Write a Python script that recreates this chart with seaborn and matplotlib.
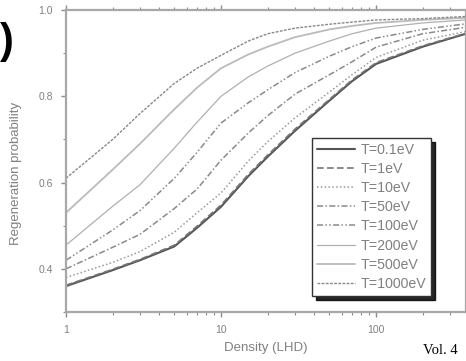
import numpy as np
import pandas as pd
import matplotlib
matplotlib.use("Agg")
import matplotlib.pyplot as plt
import matplotlib.ticker as mticker
import seaborn as sns

density = [1, 2, 3, 5, 7, 10, 15, 20, 30, 50, 70, 100, 200, 380]

labels = ["T=0.1eV", "T=1eV", "T=10eV", "T=50eV", "T=100eV", "T=200eV", "T=500eV", "T=1000eV"]

p_01 = [0.360, 0.397, 0.420, 0.452, 0.495, 0.544, 0.615, 0.660, 0.720, 0.790, 0.835, 0.875, 0.915, 0.945]
p_1 = [0.362, 0.399, 0.422, 0.455, 0.499, 0.548, 0.619, 0.664, 0.724, 0.793, 0.838, 0.878, 0.917, 0.946]
p_10 = [0.380, 0.415, 0.440, 0.485, 0.530, 0.576, 0.650, 0.695, 0.750, 0.810, 0.850, 0.890, 0.930, 0.950]
p_50 = [0.400, 0.450, 0.480, 0.540, 0.585, 0.652, 0.715, 0.755, 0.805, 0.850, 0.880, 0.914, 0.945, 0.960]
p_100 = [0.420, 0.490, 0.535, 0.610, 0.670, 0.738, 0.785, 0.815, 0.855, 0.893, 0.915, 0.935, 0.955, 0.968]
p_200 = [0.455, 0.545, 0.595, 0.680, 0.740, 0.800, 0.845, 0.870, 0.900, 0.928, 0.945, 0.958, 0.970, 0.977]
p_500 = [0.530, 0.630, 0.690, 0.770, 0.820, 0.865, 0.897, 0.915, 0.937, 0.955, 0.963, 0.970, 0.977, 0.982]
p_1000 = [0.610, 0.700, 0.760, 0.830, 0.865, 0.895, 0.928, 0.945, 0.958, 0.967, 0.972, 0.977, 0.980, 0.985]

series = [p_01, p_1, p_10, p_50, p_100, p_200, p_500, p_1000]

# line styles (scan is all grey)
styles = ["-", (0, (4, 2)), (0, (1, 1.5)), (0, (4, 1.5, 1, 1.5)),
          (0, (4, 1.5, 1, 1.5, 1, 1.5)), "-", "-", (0, (2, 1))]
colors = ["#555555", "#777777", "#999999", "#8a8a8a", "#8a8a8a", "#b0b0b0", "#bbbbbb", "#888888"]
widths = [1.5, 1.2, 1.1, 1.1, 1.1, 0.9, 1.3, 1.0]

sns.set_style("ticks")
plt.rcParams['font.family'] = ['Liberation Sans', 'DejaVu Sans']

grey = "#8c8c8c"
txt = "#808080"
fig = plt.figure(figsize=(4.66, 3.61), dpi=100)
ax = fig.add_axes([66 / 466, 49 / 361, 400 / 466, 302 / 361])

for lab, vals, ls, c, lw in zip(labels, series, styles, colors, widths):
    df = pd.DataFrame({"density": density, "prob": vals})
    sns.lineplot(data=df, x="density", y="prob", ax=ax, color=c, linestyle=ls,
                 linewidth=lw, label=lab)

ax.set_xscale("log")
ax.set_xlim(1, 380)
ax.set_ylim(0.3, 1.0)

ax.xaxis.set_major_locator(mticker.FixedLocator([1, 10, 100]))
ax.xaxis.set_major_formatter(mticker.FixedFormatter(["1", "10", "100"]))
ax.xaxis.set_minor_locator(mticker.LogLocator(base=10, subs=np.arange(2, 10)))
ax.xaxis.set_minor_formatter(mticker.NullFormatter())
ax.yaxis.set_major_locator(mticker.FixedLocator([0.4, 0.6, 0.8, 1.0]))
ax.yaxis.set_major_formatter(mticker.FormatStrFormatter("%.1f"))
ax.yaxis.set_minor_locator(mticker.FixedLocator([0.3, 0.5, 0.7, 0.9]))

for s in ax.spines.values():
    s.set_visible(True)
    s.set_color("#a8a8a8")
    s.set_linewidth(1.6)

ax.tick_params(which="both", direction="out", color=grey, labelcolor=txt,
               labelsize=7.5, top=True, right=True)
ax.tick_params(which="major", length=3.5, width=1.0, pad=6)
ax.tick_params(which="minor", length=2, width=0.8)

ax.set_xlabel("Density (LHD)", fontsize=9.5, color=txt)
ax.set_ylabel("Regeneration probability", fontsize=9.5, color=txt)
ax.xaxis.set_label_coords(0.5, -0.1)
ax.yaxis.set_label_coords(-0.11, 0.46)

leg = ax.legend(loc="upper left", bbox_to_anchor=(0.615, 0.576), borderaxespad=0,
                fontsize=10.2, frameon=True, fancybox=False,
                shadow={"color": "black", "alpha": 0.85, "ox": 3, "oy": -3},
                handlelength=2.7, handletextpad=0.35, labelspacing=0.36,
                borderpad=0.35)
leg.get_frame().set_edgecolor("#333333")
leg.get_frame().set_linewidth(1.0)
for t in leg.get_texts():
    t.set_color(txt)

fig.text(0.0, 1 - 42 / 361, ")", fontsize=30, fontweight="bold",
         ha="left", va="center", color="black")
fig.text(423 / 466, 1 - 350 / 361, "Vol. 4", fontsize=10.5, family="Liberation Serif",
         ha="left", va="center", color="black")

fig.savefig("out.png", dpi=100)
